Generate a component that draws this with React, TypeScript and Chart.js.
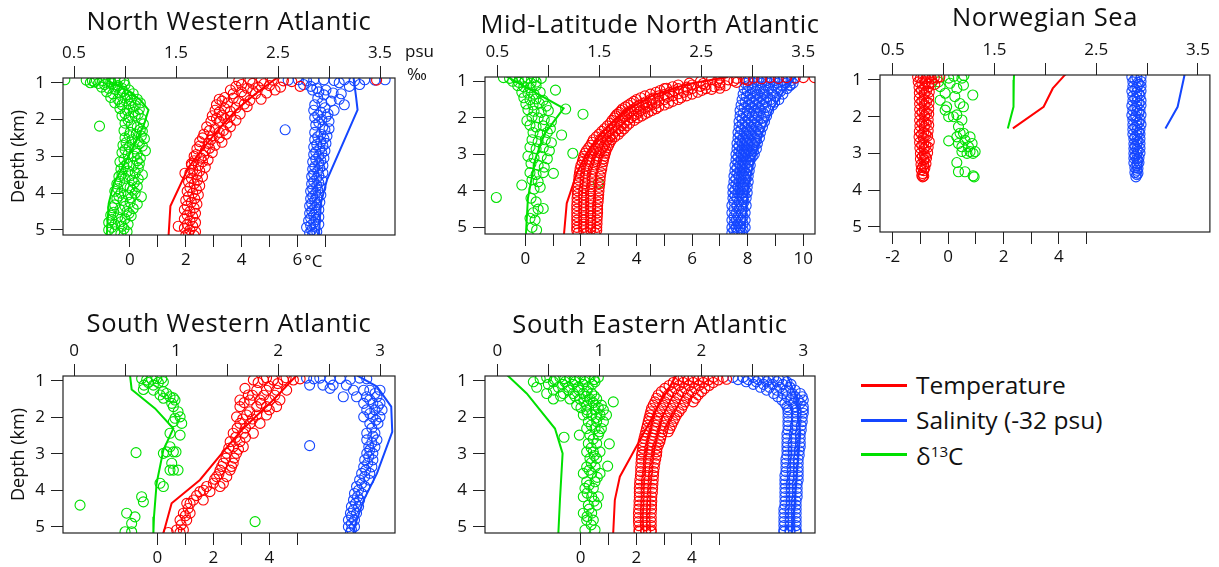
import React, { useEffect, useRef } from "react";
import { Chart, registerables } from "chart.js";

Chart.register(...registerables);

type Pt = [number, number];

const RED = "#ff0000";
const BLUE = "#1446ff";
const GREEN = "#00e000";
const INK = "#111111";
const FONT = "'Open Sans', 'Noto Sans', sans-serif";

// ---------- titles, ticks ----------
const panelTitles = [
  "North Western Atlantic",
  "Mid-Latitude North Atlantic",
  "Norwegian Sea",
  "South Western Atlantic",
  "South Eastern Atlantic",
];
const depthTicks = [1, 2, 3, 4, 5];
const topTicksNorth = [0.5, 1, 1.5, 2, 2.5, 3, 3.5];
const topLabelsNorth = [0.5, 1.5, 2.5, 3.5];
const topTicksSouth = [0, 0.5, 1, 1.5, 2, 2.5, 3];
const topLabelsSouth = [0, 1, 2, 3];
const botTicksNWA = [0, 1, 2, 3, 4, 5, 6, 7];
const botLabelsNWA = [0, 2, 4, 6];
const botTicksMLNA = [0, 1, 2, 3, 4, 5, 6, 7, 8, 9, 10];
const botLabelsMLNA = [0, 2, 4, 6, 8, 10];
const botTicksNS = [-2, -1, 0, 1, 2, 3, 4, 5];
const botLabelsNS = [-2, 0, 2, 4];
const botTicksSouth = [0, 1, 2, 3, 4, 5];
const botLabelsSouth = [0, 2, 4];
const legendLabels = ["Temperature", "Salinity (-32 psu)", "δ13C"];

// ---------- North Western Atlantic ----------
const nwaGreenObs: Pt[] = [
  [0.41, 0.92], [0.62, 0.93], [0.68, 0.95], [0.72, 0.93], [0.78, 0.94], [0.84, 0.93], [0.9, 0.95], [0.95, 0.93], [0.99, 0.97],
  [0.66, 1.0], [0.74, 1.02], [0.8, 1.05], [0.87, 1.03], [0.93, 1.08], [1.0, 1.06],
  [0.77, 1.12], [0.84, 1.15], [0.9, 1.18], [0.97, 1.15], [1.04, 1.2],
  [0.82, 1.25], [0.88, 1.3], [0.95, 1.28], [1.02, 1.33], [1.08, 1.3],
  [0.86, 1.4], [0.93, 1.45], [1.0, 1.42], [1.06, 1.48], [1.12, 1.45],
  [0.9, 1.55], [0.97, 1.6], [1.04, 1.58], [1.1, 1.62], [1.15, 1.55],
  [0.95, 1.7], [1.02, 1.75], [1.08, 1.8], [1.14, 1.72],
  [0.97, 1.9], [1.04, 1.95], [1.1, 1.9], [1.16, 1.98], [0.75, 2.18],
  [1.0, 2.1], [1.06, 2.15], [1.12, 2.2], [1.18, 2.12],
  [0.99, 2.3], [1.05, 2.35], [1.11, 2.4], [1.17, 2.32],
  [1.0, 2.5], [1.07, 2.55], [1.13, 2.6], [1.19, 2.52],
  [0.98, 2.7], [1.04, 2.75], [1.1, 2.8], [1.17, 2.72], [1.2, 2.85],
  [0.97, 2.9], [1.03, 2.95], [1.09, 3.0], [1.15, 3.05],
  [0.95, 3.15], [1.02, 3.2], [1.08, 3.25], [1.14, 3.2],
  [0.96, 3.35], [1.03, 3.4], [1.1, 3.45], [1.17, 3.5],
  [0.94, 3.55], [1.0, 3.6], [1.07, 3.65], [1.13, 3.62],
  [0.92, 3.75], [0.99, 3.8], [1.05, 3.85], [1.12, 3.82],
  [0.9, 3.95], [0.96, 4.0], [1.03, 4.05], [1.1, 4.0], [1.16, 4.1],
  [0.92, 4.15], [0.98, 4.2], [1.05, 4.25], [1.12, 4.3],
  [0.88, 4.4], [0.95, 4.45], [1.02, 4.5], [1.08, 4.42],
  [0.86, 4.6], [0.93, 4.65], [1.0, 4.7], [1.06, 4.62],
  [0.84, 4.8], [0.9, 4.85], [0.97, 4.9], [1.03, 4.85],
  [0.84, 5.0], [0.9, 5.05], [0.96, 5.1], [1.02, 5.05],
  [0.7, 0.98], [0.86, 0.98], [0.92, 1.12], [0.98, 1.24], [1.05, 1.38], [0.95, 1.52], [1.08, 1.66], [1.0, 1.84],
  [1.13, 1.85], [1.03, 2.02], [1.15, 2.27], [1.04, 2.44], [1.16, 2.45], [1.01, 2.63], [1.14, 2.66], [1.0, 2.82],
  [1.12, 2.92], [0.99, 3.08], [1.12, 3.12], [0.99, 3.28], [1.13, 3.32], [0.97, 3.48], [1.05, 3.53], [0.95, 3.68],
  [1.09, 3.72], [0.93, 3.88], [1.07, 3.92], [0.94, 4.08], [1.06, 4.13], [0.9, 4.32], [1.0, 4.36], [0.89, 4.52],
  [1.04, 4.55], [0.87, 4.72], [0.96, 4.78], [0.87, 4.93], [0.99, 4.97],
];
const nwaGreenModel: Pt[] = [
  [0.84, 0.85], [0.85, 0.97], [1.02, 1.2], [1.15, 1.47], [1.23, 1.74], [1.18, 2.19], [1.08, 2.74],
  [0.98, 3.28], [0.89, 3.73], [0.84, 4.28], [0.82, 5.2],
];
const nwaRedObs: Pt[] = [
  [3.9, 0.95], [4.3, 0.93], [4.7, 0.95], [5.1, 0.93], [5.5, 0.95], [5.8, 0.97], [6.1, 1.1], [8.84, 0.93],
  [3.8, 1.1], [4.2, 1.15], [4.6, 1.12], [5.0, 1.08], [5.4, 1.12],
  [3.2, 1.45], [3.4, 1.4],
  [3.7, 1.3], [4.1, 1.35], [4.5, 1.3], [4.9, 1.28], [5.2, 1.2],
  [3.1, 1.6], [3.5, 1.55], [3.9, 1.5], [4.3, 1.48], [4.7, 1.45],
  [3.05, 1.75], [3.4, 1.7], [3.8, 1.68], [4.2, 1.65],
  [2.95, 1.9], [3.3, 1.88], [3.6, 1.92], [3.95, 1.85],
  [2.9, 2.05], [3.2, 2.05], [3.5, 2.1], [3.8, 2.02],
  [2.75, 2.2], [3.05, 2.25], [3.35, 2.3], [3.6, 2.2],
  [2.65, 2.4], [2.95, 2.45], [3.2, 2.5], [3.45, 2.4],
  [2.5, 2.6], [2.8, 2.65], [3.05, 2.7], [3.3, 2.62],
  [2.4, 2.8], [2.7, 2.85], [2.95, 2.9],
  [2.21, 3.24], [1.97, 3.46],
  [2.3, 3.0], [2.55, 3.05], [2.8, 3.1],
  [2.2, 3.2], [2.45, 3.25], [2.7, 3.3],
  [2.15, 3.45], [2.4, 3.5], [2.6, 3.55],
  [2.1, 3.7], [2.3, 3.75], [2.5, 3.8],
  [2.05, 3.95], [2.25, 4.0], [2.45, 4.05],
  [2.0, 4.2], [2.2, 4.25], [2.4, 4.3],
  [1.95, 4.45], [2.15, 4.5], [2.35, 4.55],
  [1.95, 4.7], [2.15, 4.75], [2.35, 4.8],
  [1.73, 4.9], [1.95, 4.95], [2.15, 5.0], [2.35, 5.05], [2.0, 5.15], [2.3, 5.15],
  [4.0, 1.05], [4.4, 1.02], [4.8, 1.03], [3.6, 1.2], [4.0, 1.25], [4.4, 1.22], [3.3, 1.5], [3.7, 1.42],
  [4.1, 1.58], [3.2, 1.8], [3.6, 1.78], [3.1, 1.97], [3.4, 1.98], [2.85, 2.3], [3.2, 2.35], [2.6, 2.5],
  [2.9, 2.55], [2.5, 2.72], [2.85, 2.78], [2.38, 2.95], [2.65, 2.98], [2.3, 3.12], [2.6, 3.15], [2.25, 3.38],
  [2.5, 3.4], [2.2, 3.6], [2.42, 3.65], [2.15, 3.85], [2.38, 3.9], [2.1, 4.1], [2.32, 4.15], [2.05, 4.35],
  [2.3, 4.4], [2.05, 4.6], [2.25, 4.65], [2.05, 4.85], [2.25, 4.9], [2.1, 5.1],
];
const nwaRedModel: Pt[] = [
  [5.3, 0.85], [4.5, 1.3], [3.8, 1.75], [3.2, 2.25], [2.6, 2.8], [2.1, 3.3], [1.45, 4.35], [1.38, 5.2],
];
const nwaBlueObs: Pt[] = [
  [2.6, 0.93], [2.7, 0.92], [2.78, 0.95], [2.85, 0.93], [2.95, 0.92], [3.05, 0.94], [3.15, 0.92], [3.25, 0.95],
  [3.35, 0.92], [3.45, 0.93], [3.55, 0.92], [3.3, 1.05], [3.2, 1.1], [3.1, 1.0], [2.75, 1.05], [2.82, 1.1],
  [2.84, 1.2], [2.9, 1.25], [2.97, 1.2], [3.04, 1.28], [3.12, 1.3],
  [3.1, 1.45], [3.02, 1.5], [2.93, 1.55], [2.86, 1.6], [3.15, 1.6],
  [2.85, 1.75], [2.92, 1.8], [2.99, 1.85], [3.05, 1.75],
  [2.86, 1.95], [2.93, 2.0], [3.0, 2.05],
  [2.87, 2.15], [2.94, 2.2], [3.0, 2.25], [2.57, 2.28],
  [2.86, 2.35], [2.92, 2.4], [2.98, 2.45],
  [2.86, 2.55], [2.92, 2.6], [2.97, 2.65],
  [2.85, 2.75], [2.91, 2.8], [2.96, 2.85],
  [2.85, 2.95], [2.9, 3.0], [2.95, 3.05],
  [2.84, 3.15], [2.9, 3.2], [2.94, 3.25],
  [2.84, 3.35], [2.89, 3.4], [2.94, 3.45],
  [2.83, 3.55], [2.88, 3.6], [2.93, 3.65],
  [2.83, 3.75], [2.88, 3.8], [2.92, 3.85],
  [2.82, 3.95], [2.87, 4.0], [2.92, 4.05],
  [2.82, 4.15], [2.86, 4.2], [2.91, 4.25],
  [2.81, 4.35], [2.86, 4.4], [2.9, 4.45],
  [2.81, 4.55], [2.85, 4.6], [2.9, 4.65],
  [2.8, 4.75], [2.85, 4.8], [2.9, 4.85],
  [2.78, 4.93], [2.83, 5.0], [2.88, 5.05], [2.84, 5.12],
  [2.88, 1.15], [2.95, 1.33], [2.89, 1.42], [2.96, 1.68], [2.89, 1.88], [2.97, 1.93], [2.9, 2.08], [2.96, 2.28],
  [2.89, 2.47], [2.95, 2.52], [2.88, 2.68], [2.94, 2.72], [2.87, 2.88], [2.93, 2.92], [2.87, 3.08], [2.92, 3.12],
  [2.86, 3.28], [2.91, 3.32], [2.85, 3.48], [2.9, 3.52], [2.85, 3.68], [2.9, 3.72], [2.84, 3.88], [2.89, 3.92],
  [2.84, 4.08], [2.88, 4.12], [2.83, 4.28], [2.88, 4.32], [2.83, 4.48], [2.87, 4.52], [2.82, 4.68], [2.87, 4.72],
  [2.82, 4.88], [2.86, 4.92], [2.81, 5.08], [2.86, 5.1],
];
const nwaBlueModel: Pt[] = [
  [3.24, 0.85], [3.265, 1.38], [3.28, 1.74], [2.98, 3.64], [2.92, 4.28], [2.9, 5.2],
];

// ---------- Mid-Latitude North Atlantic ----------
const mlnaGreenObs: Pt[] = [
  [0.56, 0.9], [0.62, 0.92], [0.68, 0.9], [0.74, 0.93], [0.8, 0.91], [0.86, 0.9], [0.93, 0.92],
  [0.65, 1.0], [0.71, 1.03], [0.77, 1.0], [0.83, 1.05], [0.88, 1.02],
  [0.7, 1.12], [0.76, 1.15], [0.82, 1.18], [0.88, 1.12], [1.07, 1.24],
  [0.74, 1.3], [0.8, 1.32], [0.86, 1.35], [0.92, 1.3],
  [0.76, 1.45], [0.82, 1.5], [0.88, 1.48], [0.95, 1.52],
  [0.78, 1.62], [0.85, 1.65], [0.91, 1.6], [0.98, 1.68], [1.17, 1.76],
  [0.8, 1.78], [0.86, 1.82], [0.93, 1.85], [1.0, 1.8], [1.34, 1.9],
  [0.79, 2.08], [0.84, 1.98], [0.9, 2.0], [0.96, 2.05], [1.03, 2.1],
  [0.82, 2.2], [0.88, 2.25], [0.95, 2.22], [1.02, 2.3],
  [0.85, 2.4], [0.92, 2.45], [0.99, 2.4], [1.13, 2.47],
  [0.84, 2.6], [0.9, 2.65], [0.97, 2.6], [1.03, 2.68],
  [0.82, 2.8], [0.88, 2.85], [0.95, 2.82], [1.01, 2.9], [1.24, 2.97],
  [0.8, 3.05], [0.86, 3.1], [0.93, 3.05], [0.99, 3.12],
  [0.83, 3.25], [0.9, 3.3], [0.96, 3.35], [1.05, 3.52],
  [0.82, 3.5], [0.88, 3.55], [0.95, 3.5],
  [0.74, 3.84], [0.84, 3.7], [0.9, 3.75], [0.86, 3.95], [0.92, 3.9],
  [0.49, 4.18], [0.83, 4.2], [0.88, 4.3], [0.95, 4.48], [0.85, 4.6], [0.9, 4.5],
  [0.82, 4.75], [0.87, 4.8], [0.84, 5.0], [0.885, 5.07], [1.49, 3.79],
];
const mlnaGreenModel: Pt[] = [
  [0.58, 0.85], [1.15, 1.74], [0.96, 2.45], [0.87, 3.15], [0.8, 4.2], [0.78, 5.2],
];
const mlnaRedObs: Pt[] = [
  [7.0, 0.92], [7.6, 0.92], [8.2, 0.91], [8.8, 0.9], [9.4, 0.9], [10.0, 0.9], [10.4, 0.9],
  [6.3, 1.0], [6.9, 1.0], [7.5, 0.99], [8.0, 0.97],
  [5.5, 1.1], [6.0, 1.1], [6.5, 1.1], [7.0, 1.1], [5.08, 1.19],
  [5.0, 1.2], [5.5, 1.2], [6.0, 1.2], [6.5, 1.2], [7.0, 1.19],
  [4.7, 1.3], [5.2, 1.3], [5.7, 1.3], [6.2, 1.3],
  [4.3, 1.4], [4.8, 1.4], [5.3, 1.4], [5.8, 1.4],
  [4.0, 1.5], [4.5, 1.5], [5.0, 1.5], [5.5, 1.5],
  [3.8, 1.6], [4.25, 1.6], [4.7, 1.6], [5.15, 1.6],
  [3.6, 1.7], [4.0, 1.7], [4.4, 1.7], [4.8, 1.7],
  [3.45, 1.8], [3.8, 1.8], [4.15, 1.8], [4.55, 1.8],
  [3.3, 1.9], [3.65, 1.9], [4.0, 1.9], [4.3, 1.9],
  [3.2, 2.0], [3.5, 2.0], [3.8, 2.0], [4.05, 2.0],
  [3.05, 2.15], [3.3, 2.15], [3.55, 2.15], [3.75, 2.15],
  [2.85, 2.3], [3.1, 2.3], [3.35, 2.3], [3.55, 2.3],
  [2.65, 2.45], [2.9, 2.45], [3.15, 2.45], [3.35, 2.45],
  [2.45, 2.6], [2.7, 2.6], [2.95, 2.6], [3.1, 2.6],
  [2.35, 2.75], [2.6, 2.75], [2.85, 2.75], [3.0, 2.75],
  [2.2, 2.9], [2.45, 2.9], [2.7, 2.9], [2.9, 2.9],
  [2.1, 3.05], [2.35, 3.05], [2.6, 3.05], [2.85, 3.05],
  [2.05, 3.2], [2.3, 3.2], [2.55, 3.2], [2.8, 3.2],
  [1.97, 3.4], [2.2, 3.4], [2.45, 3.4], [2.75, 3.4],
  [1.93, 3.6], [2.15, 3.6], [2.4, 3.6], [2.7, 3.6],
  [1.9, 3.8], [2.15, 3.8], [2.4, 3.8], [2.68, 3.8],
  [1.88, 4.0], [2.1, 4.0], [2.35, 4.0], [2.65, 4.0],
  [1.86, 4.2], [2.1, 4.2], [2.35, 4.2], [2.63, 4.2],
  [1.85, 4.4], [2.1, 4.4], [2.35, 4.4], [2.6, 4.4],
  [1.85, 4.6], [2.1, 4.6], [2.35, 4.6], [2.6, 4.6],
  [1.85, 4.8], [2.1, 4.8], [2.35, 4.8], [2.58, 4.8],
  [1.85, 5.0], [2.1, 5.0], [2.35, 5.0], [2.57, 5.0],
  [1.9, 5.15], [2.2, 5.15], [2.5, 5.15],
  [6.7, 0.95], [7.3, 0.96], [7.9, 0.94], [8.5, 0.93], [9.1, 0.92], [9.7, 0.91],
  [5.9, 1.05], [6.4, 1.06], [7.0, 1.04], [7.6, 1.03],
  [5.3, 1.15], [5.8, 1.16], [6.3, 1.14], [6.8, 1.15], [7.2, 1.12],
  [4.85, 1.25], [5.35, 1.26], [5.85, 1.24], [6.35, 1.25], [6.7, 1.22],
  [4.5, 1.35], [5.0, 1.36], [5.5, 1.34], [6.0, 1.35],
  [4.15, 1.45], [4.6, 1.46], [5.1, 1.44], [5.6, 1.45],
  [3.9, 1.55], [4.35, 1.56], [4.8, 1.54], [5.3, 1.55],
  [3.7, 1.65], [4.1, 1.66], [4.55, 1.64], [5.0, 1.65],
  [3.5, 1.75], [3.9, 1.76], [4.3, 1.74], [4.7, 1.75],
  [3.38, 1.85], [3.72, 1.86], [4.08, 1.84], [4.42, 1.85],
  [3.25, 1.95], [3.58, 1.96], [3.9, 1.94], [4.18, 1.95],
  [3.12, 2.07], [3.4, 2.08], [3.68, 2.06], [3.92, 2.07],
  [2.95, 2.22], [3.2, 2.23], [3.45, 2.21], [3.65, 2.22],
  [2.75, 2.37], [3.0, 2.38], [3.25, 2.36], [3.45, 2.37],
  [2.55, 2.52], [2.8, 2.53], [3.05, 2.51], [3.22, 2.52],
  [2.4, 2.67], [2.65, 2.68], [2.9, 2.66], [3.05, 2.67],
  [2.28, 2.82], [2.52, 2.83], [2.78, 2.81], [2.95, 2.82],
  [2.15, 2.97], [2.4, 2.98], [2.65, 2.96], [2.88, 2.97],
  [2.08, 3.12], [2.32, 3.13], [2.58, 3.11], [2.82, 3.12],
  [2.0, 3.3], [2.25, 3.31], [2.5, 3.29], [2.77, 3.3],
  [1.95, 3.5], [2.18, 3.51], [2.42, 3.49], [2.72, 3.5],
  [1.92, 3.7], [2.15, 3.71], [2.4, 3.69], [2.69, 3.7],
  [1.89, 3.9], [2.12, 3.91], [2.38, 3.89], [2.66, 3.9],
  [1.87, 4.1], [2.1, 4.11], [2.35, 4.09], [2.64, 4.1],
  [1.86, 4.3], [2.1, 4.31], [2.35, 4.29], [2.62, 4.3],
  [1.85, 4.5], [2.1, 4.51], [2.35, 4.49], [2.6, 4.5],
  [1.85, 4.7], [2.1, 4.71], [2.35, 4.69], [2.59, 4.7],
  [1.85, 4.9], [2.1, 4.91], [2.35, 4.89], [2.58, 4.9],
  [1.85, 5.08], [2.1, 5.09], [2.35, 5.07], [2.57, 5.08],
];
const mlnaRedModel: Pt[] = [
  [7.3, 0.88], [5.8, 1.08], [4.6, 1.38], [3.6, 1.8], [3.1, 2.15], [2.75, 2.42], [2.2, 2.97],
  [1.85, 3.52], [1.49, 4.34], [1.39, 5.2],
];
const mlnaBlueObs: Pt[] = [
  [2.93, 0.92], [3.02, 0.92], [3.1, 0.92], [3.18, 0.92], [3.26, 0.92], [3.34, 0.92], [3.42, 0.92],
  [2.93, 1.05], [3.01, 1.05], [3.09, 1.05], [3.17, 1.05], [3.25, 1.05], [3.33, 1.05], [3.4, 1.05],
  [2.92, 1.2], [3.0, 1.2], [3.08, 1.2], [3.16, 1.2], [3.24, 1.2], [3.34, 1.2],
  [2.91, 1.35], [2.98, 1.35], [3.05, 1.35], [3.12, 1.35], [3.2, 1.35], [3.3, 1.35],
  [2.9, 1.5], [2.97, 1.5], [3.04, 1.5], [3.11, 1.5], [3.18, 1.5], [3.26, 1.5],
  [2.89, 1.65], [2.96, 1.65], [3.03, 1.65], [3.1, 1.65], [3.2, 1.65],
  [2.88, 1.8], [2.95, 1.8], [3.02, 1.8], [3.08, 1.8], [3.16, 1.8],
  [2.88, 1.95], [2.94, 1.95], [3.0, 1.95], [3.06, 1.95], [3.14, 1.95],
  [2.87, 2.1], [2.93, 2.1], [2.99, 2.1], [3.05, 2.1], [3.12, 2.1],
  [2.87, 2.25], [2.93, 2.25], [2.99, 2.25], [3.04, 2.25], [3.1, 2.25],
  [2.86, 2.4], [2.92, 2.4], [2.97, 2.4], [3.03, 2.4], [3.08, 2.4],
  [2.86, 2.55], [2.91, 2.55], [2.96, 2.55], [3.02, 2.55], [3.07, 2.55],
  [2.85, 2.7], [2.9, 2.7], [2.95, 2.7], [3.0, 2.7], [3.05, 2.7],
  [2.85, 2.85], [2.9, 2.85], [2.95, 2.85], [3.0, 2.85], [3.04, 2.85],
  [2.84, 3.0], [2.89, 3.0], [2.94, 3.0], [2.99, 3.0], [3.02, 3.0],
  [2.84, 3.15], [2.89, 3.15], [2.94, 3.15], [2.98, 3.15],
  [2.83, 3.3], [2.88, 3.3], [2.93, 3.3], [2.98, 3.3],
  [2.83, 3.45], [2.88, 3.45], [2.92, 3.45], [2.97, 3.45],
  [2.82, 3.6], [2.87, 3.6], [2.92, 3.6], [2.96, 3.6],
  [2.82, 3.75], [2.87, 3.75], [2.91, 3.75], [2.96, 3.75],
  [2.81, 3.9], [2.86, 3.9], [2.91, 3.9], [2.95, 3.9],
  [2.81, 4.05], [2.86, 4.05], [2.9, 4.05], [2.95, 4.05],
  [2.81, 4.2], [2.85, 4.2], [2.9, 4.2], [2.94, 4.2],
  [2.8, 4.4], [2.85, 4.4], [2.89, 4.4], [2.94, 4.4],
  [2.8, 4.6], [2.84, 4.6], [2.89, 4.6], [2.93, 4.6],
  [2.8, 4.8], [2.84, 4.8], [2.89, 4.8], [2.93, 4.8],
  [2.8, 5.0], [2.84, 5.0], [2.88, 5.0], [2.93, 5.0],
  [2.8, 5.15], [2.85, 5.15], [2.9, 5.15], [3.37, 1.1],
  [2.97, 0.98], [3.06, 0.98], [3.14, 0.98], [3.22, 0.98], [3.3, 0.98], [3.38, 0.98],
  [2.96, 1.12], [3.05, 1.12], [3.13, 1.12], [3.21, 1.12], [3.29, 1.12], [3.37, 1.12],
  [2.95, 1.27], [3.03, 1.27], [3.11, 1.27], [3.19, 1.27], [3.28, 1.27],
  [2.94, 1.42], [3.01, 1.42], [3.08, 1.42], [3.15, 1.42], [3.23, 1.42],
  [2.93, 1.57], [3.0, 1.57], [3.07, 1.57], [3.14, 1.57], [3.22, 1.57],
  [2.92, 1.72], [2.99, 1.72], [3.06, 1.72], [3.13, 1.72],
  [2.91, 1.87], [2.97, 1.87], [3.04, 1.87], [3.11, 1.87],
  [2.9, 2.02], [2.96, 2.02], [3.02, 2.02], [3.09, 2.02],
  [2.9, 2.17], [2.96, 2.17], [3.02, 2.17], [3.08, 2.17],
  [2.89, 2.32], [2.95, 2.32], [3.0, 2.32], [3.06, 2.32],
  [2.88, 2.47], [2.94, 2.47], [2.99, 2.47], [3.05, 2.47],
  [2.88, 2.62], [2.93, 2.62], [2.98, 2.62], [3.04, 2.62],
  [2.87, 2.77], [2.92, 2.77], [2.97, 2.77], [3.02, 2.77],
  [2.87, 2.92], [2.92, 2.92], [2.97, 2.92], [3.01, 2.92],
  [2.86, 3.07], [2.91, 3.07], [2.96, 3.07], [3.0, 3.07],
  [2.86, 3.22], [2.91, 3.22], [2.96, 3.22],
  [2.85, 3.37], [2.9, 3.37], [2.95, 3.37],
  [2.85, 3.52], [2.9, 3.52], [2.94, 3.52],
  [2.84, 3.67], [2.89, 3.67], [2.94, 3.67],
  [2.84, 3.82], [2.89, 3.82], [2.93, 3.82],
  [2.83, 3.97], [2.88, 3.97], [2.93, 3.97],
  [2.83, 4.12], [2.88, 4.12], [2.92, 4.12],
  [2.82, 4.3], [2.87, 4.3], [2.92, 4.3],
  [2.82, 4.5], [2.87, 4.5], [2.91, 4.5],
  [2.82, 4.7], [2.86, 4.7], [2.91, 4.7],
  [2.82, 4.9], [2.86, 4.9], [2.91, 4.9],
  [2.82, 5.08], [2.86, 5.08], [2.91, 5.08],
];
const mlnaBlueModel: Pt[] = [
  [3.43, 0.85], [3.3, 1.3], [3.2, 1.75], [3.1, 2.4], [3.02, 3.1], [2.96, 3.9], [2.92, 5.2],
];

// ---------- Norwegian Sea ----------
const nsGreenObs: Pt[] = [
  [0.966, 1.18], [1.064, 1.09], [1.015, 1.36], [1.13, 1.23], [1.195, 1.14], [1.18, 0.95], [1.05, 0.95],
  [0.95, 1.05], [1.11, 1.45], [0.966, 1.55], [1.16, 1.64], [1.03, 1.73], [1.195, 1.73], [1.015, 1.82],
  [1.13, 1.95], [1.097, 2.0], [1.18, 2.09], [1.05, 2.0], [1.287, 1.41], [1.146, 2.27], [1.162, 2.45],
  [1.13, 2.55], [1.195, 2.45], [1.21, 2.64], [1.146, 2.73], [1.05, 2.66], [1.26, 2.55], [1.244, 2.82],
  [1.18, 2.82], [1.23, 3.0], [1.28, 2.73], [1.18, 2.95], [1.29, 3.0], [1.26, 2.95], [1.31, 2.95],
  [1.13, 3.25], [1.146, 3.5], [1.21, 3.5], [1.29, 3.61], [1.3, 3.64], [1.1, 0.9], [1.2, 0.88],
];
const nsGreenModel: Pt[] = [
  [1.693, 0.8], [1.69, 1.0], [1.687, 1.73], [1.631, 2.32],
];
const nsRedObs: Pt[] = [
  [-1.1, 0.92], [-1.0, 0.95], [-0.9, 0.93], [-0.8, 0.96], [-0.7, 0.93], [-0.6, 0.97], [-0.5, 0.93], [-0.4, 0.95], [-0.3, 0.92],
  [-1.08, 1.05], [-0.95, 1.08], [-0.82, 1.05], [-0.7, 1.1], [-0.58, 1.06], [-0.48, 1.12],
  [-1.05, 1.2], [-0.88, 1.22], [-0.7, 1.18],
  [-1.04, 1.35], [-0.86, 1.37], [-0.68, 1.33],
  [-1.04, 1.5], [-0.87, 1.52], [-0.7, 1.48],
  [-1.03, 1.65], [-0.86, 1.67], [-0.69, 1.63],
  [-1.03, 1.8], [-0.86, 1.82], [-0.7, 1.78],
  [-1.02, 1.95], [-0.85, 1.97], [-0.7, 1.93],
  [-1.03, 2.1], [-0.87, 2.12], [-0.72, 2.08],
  [-1.02, 2.25], [-0.86, 2.27], [-0.7, 2.23],
  [-1.04, 2.4], [-0.88, 2.42], [-0.72, 2.38],
  [-1.05, 2.55], [-0.9, 2.57], [-0.74, 2.53],
  [-1.03, 2.7], [-0.88, 2.72], [-0.68, 2.68],
  [-1.02, 2.85], [-0.87, 2.87], [-0.72, 2.83],
  [-1.0, 3.0], [-0.86, 3.02], [-0.74, 2.98],
  [-1.0, 3.15], [-0.88, 3.17], [-0.78, 3.13],
  [-0.98, 3.3], [-0.88, 3.32], [-0.8, 3.28],
  [-0.97, 3.45], [-0.88, 3.47], [-0.95, 3.6], [-0.88, 3.62], [-0.92, 3.64],
  [-0.96, 1.28], [-0.78, 1.3], [-0.95, 1.58], [-0.78, 1.6], [-0.94, 1.88], [-0.78, 1.9], [-0.95, 2.18],
  [-0.79, 2.2], [-0.96, 2.48], [-0.8, 2.5], [-0.95, 2.78], [-0.8, 2.8], [-0.93, 3.08], [-0.82, 3.1],
  [-0.93, 3.38], [-0.84, 3.4], [-0.92, 3.55],
];
const nsRedModel: Pt[] = [
  [4.3, 0.8], [4.17, 0.9], [3.78, 1.23], [3.45, 1.73], [2.34, 2.32],
];
const nsBlueObs: Pt[] = [
  [2.85, 0.92], [2.9, 0.93], [2.94, 0.92], [2.86, 1.05], [2.91, 1.07], [2.94, 1.04],
  [2.86, 1.18], [2.9, 1.2], [2.94, 1.17], [2.85, 1.31], [2.9, 1.33], [2.94, 1.3],
  [2.86, 1.44], [2.9, 1.46], [2.93, 1.43], [2.86, 1.57], [2.9, 1.59], [2.94, 1.56],
  [2.85, 1.7], [2.9, 1.72], [2.94, 1.69], [2.86, 1.83], [2.9, 1.85], [2.93, 1.82],
  [2.85, 1.96], [2.89, 1.98], [2.94, 1.95], [2.86, 2.09], [2.9, 2.11], [2.93, 2.08],
  [2.86, 2.22], [2.9, 2.24], [2.94, 2.21], [2.86, 2.35], [2.9, 2.37], [2.93, 2.34],
  [2.86, 2.48], [2.9, 2.5], [2.93, 2.47], [2.87, 2.61], [2.9, 2.63], [2.93, 2.6],
  [2.87, 2.74], [2.9, 2.76], [2.93, 2.73], [2.87, 2.87], [2.9, 2.89], [2.93, 2.86],
  [2.87, 3.0], [2.9, 3.02], [2.93, 2.99], [2.87, 3.13], [2.9, 3.15], [2.92, 3.12],
  [2.87, 3.26], [2.9, 3.28], [2.92, 3.25], [2.88, 3.39], [2.91, 3.41], [2.88, 3.52],
  [2.91, 3.54], [2.89, 3.64],
  [2.88, 0.98], [2.92, 1.12], [2.88, 1.25], [2.92, 1.38], [2.88, 1.51], [2.92, 1.64], [2.88, 1.77],
  [2.92, 1.9], [2.88, 2.03], [2.92, 2.16], [2.88, 2.29], [2.92, 2.42], [2.88, 2.55], [2.91, 2.68],
  [2.88, 2.81], [2.91, 2.94], [2.88, 3.07], [2.91, 3.2], [2.9, 3.33], [2.9, 3.46], [2.9, 3.58],
];
const nsBlueModel: Pt[] = [
  [3.37, 0.8], [3.365, 0.9], [3.3, 1.73], [3.18, 2.32],
];

// ---------- South Western Atlantic ----------
const swaGreenObs: Pt[] = [
  [0.663, 0.94], [0.712, 0.98], [0.761, 0.96], [0.81, 0.94], [0.86, 0.94], [0.876, 1.03], [0.686, 1.12],
  [0.729, 1.05], [0.778, 1.12], [0.827, 1.05], [0.68, 1.24], [0.778, 1.26], [0.876, 1.3], [0.843, 1.39],
  [0.908, 1.35], [0.876, 1.48], [0.941, 1.44], [0.974, 1.47], [0.958, 1.62], [0.99, 1.53], [0.974, 1.71],
  [1.02, 1.85], [1.04, 1.99], [0.99, 2.03], [0.974, 2.12], [1.056, 2.17], [1.04, 2.49], [0.941, 2.44],
  [0.908, 2.95], [0.876, 2.99], [0.941, 2.81], [0.974, 2.95], [1.0, 2.95], [0.958, 3.26], [0.974, 3.45],
  [0.941, 3.45], [1.02, 3.45], [0.843, 3.81], [0.876, 3.9], [0.663, 4.18], [0.68, 4.32], [0.516, 4.63],
  [0.598, 4.73], [0.565, 4.91], [0.5, 5.14], [0.565, 5.14], [0.059, 4.41], [0.608, 2.97], [1.775, 4.86],
];
const swaGreenModel: Pt[] = [
  [0.549, 0.85], [0.565, 1.24], [0.794, 1.76], [0.974, 2.31], [0.876, 2.9], [0.81, 3.81], [0.784, 4.73], [0.778, 5.2],
];
const swaRedObs: Pt[] = [
  [3.43, 0.98], [3.79, 0.98], [4.14, 0.98], [4.5, 0.98], [4.86, 0.98], [5.1, 0.95], [3.9, 0.92], [4.6, 0.92],
  [3.13, 1.21], [3.25, 1.39], [2.95, 1.53],
  [3.55, 1.26], [3.9, 1.26], [4.26, 1.26], [4.62, 1.26],
  [3.31, 1.53], [3.67, 1.53], [4.02, 1.53], [4.38, 1.53],
  [2.95, 1.71], [3.55, 1.71], [3.9, 1.71], [4.26, 1.71],
  [3.19, 1.94], [3.55, 1.94], [3.9, 1.94], [2.83, 1.99],
  [2.95, 2.17], [3.31, 2.17], [3.67, 2.17],
  [2.71, 2.44], [3.07, 2.44], [3.43, 2.44],
  [2.6, 2.67], [2.95, 2.67], [2.71, 2.81], [3.07, 2.81],
  [2.48, 2.99], [2.83, 2.99], [2.36, 3.26], [2.71, 3.26],
  [2.24, 3.45], [2.6, 3.45], [2.12, 3.63], [2.48, 3.63],
  [2.0, 3.81], [2.36, 3.81], [1.76, 3.9], [2.24, 3.9],
  [1.52, 4.04], [1.88, 4.04], [1.29, 4.27], [1.64, 4.27],
  [1.05, 4.36], [1.17, 4.36], [0.93, 4.63], [1.17, 4.63],
  [0.81, 4.82], [1.05, 4.82], [0.69, 5.09], [0.93, 5.09], [0.39, 5.16], [0.81, 5.16],
  [3.6, 1.05], [4.3, 1.08], [4.0, 1.15], [3.4, 1.4], [3.8, 1.4], [4.2, 1.4], [3.1, 1.6], [3.7, 1.62],
  [4.0, 1.8], [3.3, 1.85], [3.05, 2.05], [3.4, 2.05], [3.15, 2.3], [2.85, 2.3], [2.8, 2.55], [3.15, 2.55],
  [2.55, 2.85], [2.9, 2.88], [2.45, 3.12], [2.75, 3.12], [2.3, 3.35], [2.65, 3.35], [2.2, 3.55], [2.05, 3.7],
  [1.65, 4.0], [1.4, 4.15], [1.1, 4.5], [1.0, 4.7], [0.85, 4.95],
];
const swaRedModel: Pt[] = [
  [4.98, 0.85], [4.14, 1.53], [3.07, 2.31], [2.6, 2.72], [1.52, 3.72], [0.51, 4.36], [0.21, 5.2],
];
const swaBlueObs: Pt[] = [
  [2.28, 0.93], [2.35, 0.95], [2.41, 0.93], [2.51, 0.96], [2.61, 0.94], [2.71, 0.96], [2.8, 0.93], [2.87, 0.95],
  [2.31, 1.12], [2.44, 1.12], [2.54, 1.12], [2.67, 1.12], [2.51, 1.21],
  [2.74, 1.26], [2.84, 1.26], [2.9, 1.26], [3.0, 1.26],
  [2.77, 1.44], [2.87, 1.44], [2.97, 1.44], [2.64, 1.44],
  [2.84, 1.62], [2.93, 1.62], [3.0, 1.62],
  [2.87, 1.8], [2.95, 1.8], [3.02, 1.8],
  [2.84, 1.99], [2.93, 1.99], [3.0, 1.99],
  [2.9, 2.17], [2.98, 2.17], [2.87, 2.44], [2.95, 2.44],
  [2.87, 2.62], [2.97, 2.62], [2.89, 2.81], [2.95, 2.81],
  [2.87, 2.99], [2.93, 2.99], [2.85, 3.17], [2.93, 3.17],
  [2.84, 3.36], [2.92, 3.36], [2.82, 3.54], [2.9, 3.54],
  [2.8, 3.72], [2.89, 3.72], [2.77, 3.9], [2.85, 3.9],
  [2.75, 4.09], [2.82, 4.09], [2.74, 4.27], [2.8, 4.27],
  [2.72, 4.45], [2.79, 4.45], [2.71, 4.63], [2.77, 4.63],
  [2.69, 4.82], [2.75, 4.82], [2.69, 5.0], [2.75, 5.0], [2.71, 5.16], [2.31, 2.78],
  [2.95, 1.35], [2.9, 1.52], [2.98, 1.7], [2.9, 1.9], [2.96, 2.08], [2.92, 2.3], [2.93, 2.52], [2.92, 2.7],
  [2.9, 2.9], [2.89, 3.08], [2.88, 3.26], [2.86, 3.45], [2.85, 3.63], [2.82, 3.82], [2.79, 4.0], [2.78, 4.18],
  [2.76, 4.36], [2.74, 4.54], [2.72, 4.72], [2.72, 4.92], [2.72, 5.08],
];
const swaBlueModel: Pt[] = [
  [2.77, 0.85], [2.97, 1.16], [3.11, 1.71], [3.12, 2.4], [2.97, 3.54], [2.84, 4.27], [2.75, 5.0], [2.74, 5.2],
];

// ---------- South Eastern Atlantic ----------
const seaGreenObs: Pt[] = [
  [0.484, 0.91], [0.614, 0.91], [0.712, 0.91], [0.81, 0.91], [0.908, 0.91], [0.99, 0.91],
  [0.353, 1.03], [0.549, 1.03], [0.663, 1.03], [0.761, 1.03], [0.859, 1.03], [0.958, 1.03],
  [0.386, 1.18], [0.598, 1.18], [0.696, 1.18], [0.794, 1.18], [0.892, 1.18],
  [0.484, 1.35], [0.647, 1.35], [0.745, 1.35], [0.843, 1.35], [0.925, 1.35],
  [0.549, 1.5], [0.712, 1.5], [0.81, 1.5], [0.908, 1.5], [0.974, 1.5], [1.137, 1.58],
  [0.778, 1.67], [0.876, 1.67], [0.958, 1.67], [1.02, 1.67],
  [0.876, 1.8], [0.958, 1.8], [1.04, 1.8],
  [0.843, 1.94], [0.925, 1.94], [1.007, 1.94], [1.07, 1.94],
  [0.892, 2.12], [0.974, 2.12], [1.04, 2.12],
  [0.876, 2.31], [0.958, 2.31], [1.02, 2.31],
  [0.804, 2.49], [0.908, 2.49], [0.99, 2.49], [0.654, 2.55], [1.098, 2.73],
  [0.892, 2.72], [0.974, 2.72], [0.876, 2.95], [0.941, 2.95], [1.007, 2.95],
  [0.908, 3.13], [0.974, 3.13], [1.082, 3.34], [0.876, 3.36], [0.958, 3.36],
  [0.843, 3.54], [0.925, 3.54], [1.007, 3.54], [0.876, 3.77], [0.958, 3.77],
  [0.859, 3.95], [0.941, 3.95], [0.843, 4.18], [0.925, 4.18], [0.99, 4.18],
  [0.892, 4.41], [0.974, 4.41], [0.843, 4.63], [0.925, 4.63],
  [0.876, 4.82], [0.941, 4.82], [0.859, 5.09], [0.958, 5.09],
  [0.42, 0.95], [0.56, 0.97], [0.66, 0.95], [0.76, 0.97], [0.86, 0.96], [0.95, 0.97], [0.5, 1.1], [0.64, 1.1],
  [0.74, 1.1], [0.84, 1.1], [0.93, 1.1], [0.55, 1.26], [0.7, 1.26], [0.8, 1.26], [0.88, 1.28], [0.62, 1.42],
  [0.76, 1.42], [0.87, 1.43], [0.95, 1.42], [0.85, 1.58], [0.94, 1.6], [0.82, 1.74], [0.99, 1.74], [0.88, 1.88],
  [0.97, 2.02], [0.92, 2.22], [1.0, 2.4], [0.94, 2.6], [0.92, 2.84], [0.95, 3.05], [0.92, 3.25], [0.9, 3.45],
  [0.98, 3.65], [0.9, 3.86], [0.88, 4.08], [0.95, 4.3], [0.9, 4.52], [0.88, 4.72], [0.92, 4.95],
];
const seaGreenModel: Pt[] = [
  [0.098, 0.85], [0.288, 1.35], [0.565, 2.31], [0.64, 2.99], [0.614, 4.27], [0.598, 5.2],
];
const seaRedObs: Pt[] = [
  [3.69, 0.91], [4.05, 0.91], [4.41, 0.91], [4.77, 0.91], [5.13, 0.91],
  [3.33, 1.05], [3.69, 1.05], [4.05, 1.05], [4.41, 1.05], [4.77, 1.05],
  [3.03, 1.21], [3.39, 1.21], [3.75, 1.21], [4.11, 1.21], [4.47, 1.21],
  [2.79, 1.39], [3.15, 1.39], [3.51, 1.39], [3.87, 1.39], [4.23, 1.39],
  [2.67, 1.58], [3.03, 1.58], [3.39, 1.58], [3.75, 1.58], [4.05, 1.58],
  [2.55, 1.76], [2.91, 1.76], [3.27, 1.76], [3.63, 1.76],
  [2.49, 1.94], [2.79, 1.94], [3.15, 1.94], [3.45, 1.94],
  [2.43, 2.12], [2.73, 2.12], [3.03, 2.12], [3.33, 2.12],
  [2.37, 2.31], [2.67, 2.31], [2.97, 2.31], [3.21, 2.31],
  [2.31, 2.49], [2.61, 2.49], [2.91, 2.49],
  [2.25, 2.67], [2.55, 2.67], [2.85, 2.67],
  [2.23, 2.85], [2.49, 2.85], [2.75, 2.85],
  [2.19, 3.04], [2.46, 3.04], [2.73, 3.04],
  [2.17, 3.26], [2.43, 3.26], [2.67, 3.26],
  [2.16, 3.49], [2.41, 3.49], [2.63, 3.49],
  [2.13, 3.72], [2.37, 3.72], [2.61, 3.72],
  [2.11, 3.95], [2.35, 3.95], [2.59, 3.95],
  [2.11, 4.18], [2.35, 4.18], [2.56, 4.18],
  [2.1, 4.41], [2.34, 4.41], [2.55, 4.41],
  [2.08, 4.63], [2.32, 4.63], [2.54, 4.63],
  [2.08, 4.86], [2.32, 4.86], [2.54, 4.86],
  [2.1, 5.09], [2.34, 5.09], [2.54, 5.09],
  [3.5, 0.98], [3.87, 0.98], [4.23, 0.98], [4.6, 0.98], [4.95, 0.98], [5.25, 0.96],
  [3.18, 1.13], [3.54, 1.13], [3.9, 1.13], [4.26, 1.13], [4.62, 1.13],
  [2.9, 1.3], [3.27, 1.3], [3.63, 1.3], [3.99, 1.3], [4.35, 1.3],
  [2.73, 1.48], [3.09, 1.48], [3.45, 1.48], [3.81, 1.48], [4.14, 1.48],
  [2.61, 1.67], [2.97, 1.67], [3.33, 1.67], [3.69, 1.67],
  [2.52, 1.85], [2.85, 1.85], [3.21, 1.85], [3.54, 1.85],
  [2.46, 2.03], [2.76, 2.03], [3.09, 2.03], [3.39, 2.03],
  [2.4, 2.22], [2.7, 2.22], [3.0, 2.22], [3.27, 2.22],
  [2.34, 2.4], [2.64, 2.4], [2.94, 2.4], [3.15, 2.4],
  [2.28, 2.58], [2.58, 2.58], [2.88, 2.58],
  [2.24, 2.76], [2.52, 2.76], [2.8, 2.76],
  [2.21, 2.95], [2.48, 2.95], [2.74, 2.95],
  [2.18, 3.15], [2.44, 3.15], [2.7, 3.15],
  [2.16, 3.38], [2.42, 3.38], [2.65, 3.38],
  [2.15, 3.6], [2.39, 3.6], [2.62, 3.6],
  [2.12, 3.83], [2.36, 3.83], [2.6, 3.83],
  [2.11, 4.06], [2.35, 4.06], [2.58, 4.06],
  [2.1, 4.3], [2.34, 4.3], [2.56, 4.3],
  [2.09, 4.52], [2.33, 4.52], [2.55, 4.52],
  [2.08, 4.75], [2.32, 4.75], [2.54, 4.75],
  [2.09, 4.97], [2.33, 4.97], [2.54, 4.97],
  [2.1, 5.14], [2.34, 5.14], [2.54, 5.14],
];
const seaRedModel: Pt[] = [
  [3.45, 0.85], [2.85, 1.62], [2.13, 2.63], [1.41, 3.63], [1.23, 4.27], [1.17, 5.2],
];
const seaBlueObs: Pt[] = [
  [2.31, 0.91], [2.41, 0.91], [2.51, 0.91], [2.61, 0.91], [2.71, 0.91],
  [2.44, 1.03], [2.54, 1.03], [2.64, 1.03], [2.74, 1.03], [2.84, 1.03],
  [2.58, 1.18], [2.67, 1.18], [2.77, 1.18], [2.87, 1.18],
  [2.71, 1.35], [2.8, 1.35], [2.89, 1.35], [2.97, 1.35],
  [2.79, 1.53], [2.87, 1.53], [2.95, 1.53], [3.0, 1.53],
  [2.84, 1.71], [2.92, 1.71], [3.0, 1.71],
  [2.85, 1.89], [2.93, 1.89], [3.0, 1.89],
  [2.85, 2.12], [2.93, 2.12], [2.99, 2.12],
  [2.85, 2.35], [2.92, 2.35], [2.98, 2.35],
  [2.84, 2.58], [2.91, 2.58], [2.97, 2.58],
  [2.84, 2.81], [2.9, 2.81], [2.97, 2.81],
  [2.84, 3.04], [2.9, 3.04], [2.96, 3.04],
  [2.83, 3.26], [2.9, 3.26], [2.95, 3.26],
  [2.83, 3.49], [2.89, 3.49], [2.95, 3.49],
  [2.82, 3.72], [2.89, 3.72], [2.95, 3.72],
  [2.82, 3.95], [2.88, 3.95], [2.94, 3.95],
  [2.82, 4.18], [2.88, 4.18], [2.94, 4.18],
  [2.82, 4.41], [2.88, 4.41], [2.93, 4.41],
  [2.81, 4.63], [2.87, 4.63], [2.93, 4.63],
  [2.81, 4.86], [2.87, 4.86], [2.93, 4.86],
  [2.81, 5.09], [2.87, 5.09], [2.93, 5.09],
  [2.36, 0.97], [2.46, 0.97], [2.56, 0.97], [2.66, 0.97], [2.76, 0.97],
  [2.51, 1.1], [2.61, 1.1], [2.7, 1.1], [2.8, 1.1], [2.88, 1.1],
  [2.64, 1.26], [2.74, 1.26], [2.83, 1.26], [2.92, 1.26],
  [2.75, 1.44], [2.84, 1.44], [2.92, 1.44], [2.99, 1.44],
  [2.82, 1.62], [2.9, 1.62], [2.97, 1.62],
  [2.85, 1.8], [2.93, 1.8], [3.0, 1.8],
  [2.85, 2.0], [2.93, 2.0], [2.99, 2.0],
  [2.85, 2.23], [2.92, 2.23], [2.98, 2.23],
  [2.84, 2.46], [2.91, 2.46], [2.97, 2.46],
  [2.84, 2.7], [2.9, 2.7], [2.97, 2.7],
  [2.84, 2.92], [2.9, 2.92], [2.96, 2.92],
  [2.83, 3.15], [2.9, 3.15], [2.95, 3.15],
  [2.83, 3.38], [2.89, 3.38], [2.95, 3.38],
  [2.82, 3.6], [2.89, 3.6], [2.95, 3.6],
  [2.82, 3.83], [2.88, 3.83], [2.94, 3.83],
  [2.82, 4.06], [2.88, 4.06], [2.94, 4.06],
  [2.82, 4.3], [2.88, 4.3], [2.93, 4.3],
  [2.81, 4.52], [2.87, 4.52], [2.93, 4.52],
  [2.81, 4.75], [2.87, 4.75], [2.93, 4.75],
  [2.81, 4.97], [2.87, 4.97], [2.93, 4.97],
  [2.81, 5.14], [2.87, 5.14], [2.93, 5.14],
];
const seaBlueModel: Pt[] = [
  [2.84, 0.85], [2.93, 1.44], [2.97, 2.44], [2.93, 3.81], [2.89, 5.2],
];

// ---------- layout of the panels ----------
interface PanelSpec {
  title: string;
  frame: { l: number; r: number; t: number; b: number };
  rowTop: number;
  titleBaseline: number;
  padR: number;
  topRange: [number, number];
  topTicks: number[];
  topLabels: number[];
  botRange: [number, number];
  botTicks: number[];
  botLabels: number[];
  depthRange: [number, number];
  depthTitle: boolean;
  units: boolean;
  green: Pt[];
  greenModel: Pt[];
  red: Pt[];
  redModel: Pt[];
  blue: Pt[];
  blueModel: Pt[];
}

const panels: PanelSpec[] = [
  {
    title: panelTitles[0], frame: { l: 63, r: 395, t: 78, b: 235 }, rowTop: 0, titleBaseline: 30, padR: 50,
    topRange: [0.392, 3.647], topTicks: topTicksNorth, topLabels: topLabelsNorth,
    botRange: [-2.4, 9.5], botTicks: botTicksNWA, botLabels: botLabelsNWA,
    depthRange: [0.872, 5.139], depthTitle: true, units: true,
    green: nwaGreenObs, greenModel: nwaGreenModel, red: nwaRedObs, redModel: nwaRedModel, blue: nwaBlueObs, blueModel: nwaBlueModel,
  },
  {
    title: panelTitles[1], frame: { l: 485, r: 815, t: 77, b: 234 }, rowTop: 0, titleBaseline: 33, padR: 10,
    topRange: [0.379, 3.615], topTicks: topTicksNorth, topLabels: topLabelsNorth,
    botRange: [-1.45, 10.42], botTicks: botTicksMLNA, botLabels: botLabelsMLNA,
    depthRange: [0.882, 5.18], depthTitle: false, units: false,
    green: mlnaGreenObs, greenModel: mlnaGreenModel, red: mlnaRedObs, redModel: mlnaRedModel, blue: mlnaBlueObs, blueModel: mlnaBlueModel,
  },
  {
    title: panelTitles[2], frame: { l: 880, r: 1210, t: 75, b: 232 }, rowTop: 0, titleBaseline: 26, padR: 6,
    topRange: [0.375, 3.617], topTicks: topTicksNorth, topLabels: topLabelsNorth,
    botRange: [-2.46, 9.455], botTicks: botTicksNS, botLabels: botLabelsNS,
    depthRange: [0.864, 5.142], depthTitle: false, units: false,
    green: nsGreenObs, greenModel: nsGreenModel, red: nsRedObs, redModel: nsRedModel, blue: nsBlueObs, blueModel: nsBlueModel,
  },
  {
    title: panelTitles[3], frame: { l: 63, r: 395, t: 376, b: 533 }, rowTop: 290, titleBaseline: 332, padR: 10,
    topRange: [-0.108, 3.147], topTicks: topTicksSouth, topLabels: topLabelsSouth,
    botRange: [-3.37, 8.49], botTicks: botTicksSouth, botLabels: botLabelsSouth,
    depthRange: [0.871, 5.173], depthTitle: true, units: false,
    green: swaGreenObs, greenModel: swaGreenModel, red: swaRedObs, redModel: swaRedModel, blue: swaBlueObs, blueModel: swaBlueModel,
  },
  {
    title: panelTitles[4], frame: { l: 485, r: 815, t: 376, b: 533 }, rowTop: 290, titleBaseline: 333, padR: 10,
    topRange: [-0.121, 3.115], topTicks: topTicksSouth, topLabels: topLabelsSouth,
    botRange: [-3.44, 8.43], botTicks: botTicksSouth, botLabels: botLabelsSouth,
    depthRange: [0.871, 5.173], depthTitle: false, units: false,
    green: seaGreenObs, greenModel: seaGreenModel, red: seaRedObs, redModel: seaRedModel, blue: seaBlueObs, blueModel: seaBlueModel,
  },
];

const Y_W = 62;
const BOT_H = 40;
const TICK_LEN = 12;

function Panel({ spec }: { spec: PanelSpec }) {
  const ref = useRef<HTMLCanvasElement>(null);
  const width = spec.frame.r - spec.frame.l + Y_W + spec.padR;
  const height = spec.frame.b - spec.rowTop + BOT_H;

  useEffect(() => {
    if (!ref.current) return;
    const topH = spec.frame.t - spec.rowTop;
    const toXY = (pts: Pt[]) => pts.map(([x, y]) => ({ x, y }));
    const obs = (label: string, data: Pt[], color: string, axis: string) => ({
      label, data: toXY(data), xAxisID: axis, yAxisID: "y", showLine: false,
      pointRadius: 5, pointHoverRadius: 5, pointBorderWidth: 1.1, pointStyle: "circle",
      pointBorderColor: color, pointBackgroundColor: "rgba(0,0,0,0)", borderColor: color, clip: 0,
    });
    const model = (label: string, data: Pt[], color: string, axis: string) => ({
      label, data: toXY(data), xAxisID: axis, yAxisID: "y", showLine: true,
      borderColor: color, borderWidth: 2, pointRadius: 0, pointHoverRadius: 0, fill: false, tension: 0, clip: 0,
    });
    const tickFont = { family: FONT, size: 17 };
    const xAxis = (position: string, range: [number, number], vals: number[], labels: number[], h: number) => ({
      type: "linear", position, min: range[0], max: range[1], bounds: "data",
      afterBuildTicks: (s: any) => { s.ticks = vals.map((v) => ({ value: v })); },
      afterFit: (s: any) => { s.height = h; s.paddingLeft = 0; s.paddingRight = 0; },
      ticks: {
        autoSkip: false, maxRotation: 0, minRotation: 0, padding: 3, color: INK, font: tickFont,
        callback: (v: any) => (labels.indexOf(Number(v)) >= 0 ? String(v) : ""),
      },
      grid: { display: true, drawOnChartArea: false, drawTicks: true, tickLength: TICK_LEN, color: "#222", lineWidth: 1 },
      border: { display: false },
    });

    const deco = {
      id: "deco",
      afterDraw(chart: any) {
        const { ctx, chartArea: ca } = chart;
        ctx.save();
        ctx.strokeStyle = "#222";
        ctx.lineWidth = 1.2;
        ctx.strokeRect(ca.left, ca.top, ca.right - ca.left, ca.bottom - ca.top);
        ctx.fillStyle = INK;
        ctx.textAlign = "center";
        ctx.textBaseline = "alphabetic";
        ctx.font = `25.5px ${FONT}`;
        (ctx as any).letterSpacing = "0.6px";
        ctx.fillText(spec.title, (ca.left + ca.right) / 2, spec.titleBaseline - spec.rowTop);
        (ctx as any).letterSpacing = "0px";
        if (spec.units) {
          ctx.font = `17px ${FONT}`;
          ctx.textAlign = "left";
          ctx.fillText("psu", ca.right + 10, ca.top - 21);
          ctx.fillText("‰", ca.right + 12, ca.top + 2);
          const x6 = chart.scales.x2.getPixelForValue(6);
          ctx.fillText("°C", x6 + 7, ca.bottom + 32);
        }
        ctx.restore();
      },
    };

    const chart = new Chart(ref.current, {
      type: "scatter",
      data: {
        datasets: [
          model("Temperature", spec.redModel, RED, "x2"),
          model("Salinity (-32 psu)", spec.blueModel, BLUE, "x"),
          model("δ13C", spec.greenModel, GREEN, "x"),
          obs("Temperature obs", spec.red, RED, "x2"),
          obs("Salinity obs", spec.blue, BLUE, "x"),
          obs("δ13C obs", spec.green, GREEN, "x"),
        ] as any,
      },
      options: {
        animation: false,
        responsive: false,
        devicePixelRatio: 1,
        events: [],
        layout: { padding: { left: 0, top: 0, bottom: 0, right: spec.padR } },
        plugins: { legend: { display: false }, tooltip: { enabled: false }, title: { display: false } },
        scales: {
          x: xAxis("top", spec.topRange, spec.topTicks, spec.topLabels, topH),
          x2: xAxis("bottom", spec.botRange, spec.botTicks, spec.botLabels, BOT_H),
          y: {
            type: "linear", position: "left", reverse: true, min: spec.depthRange[0], max: spec.depthRange[1], bounds: "data",
            afterBuildTicks: (s: any) => { s.ticks = depthTicks.map((v) => ({ value: v })); },
            afterFit: (s: any) => { s.width = Y_W; s.paddingTop = 0; s.paddingBottom = 0; },
            ticks: { autoSkip: false, padding: 6, color: INK, font: tickFont, callback: (v: any) => String(v) },
            grid: { display: true, drawOnChartArea: false, drawTicks: true, tickLength: TICK_LEN, color: "#222", lineWidth: 1 },
            border: { display: false },
            title: {
              display: spec.depthTitle, text: "Depth (km)", color: INK,
              font: { family: FONT, size: 18 }, padding: { top: 7, bottom: 0 },
            },
          },
        },
      } as any,
      plugins: [deco],
    });
    return () => chart.destroy();
  }, [spec]);

  return (
    <canvas
      ref={ref}
      width={width}
      height={height}
      style={{ position: "absolute", left: spec.frame.l - Y_W, top: spec.rowTop, width, height }}
    />
  );
}

const legendColors = [RED, BLUE, GREEN];
const legendY = [385, 420, 454];

function Legend() {
  return (
    <>
      {legendLabels.map((lab, i) => (
        <div
          key={lab}
          style={{
            position: "absolute", left: 861, top: legendY[i] - 16, height: 32,
            display: "flex", alignItems: "center", fontFamily: FONT, fontSize: 24.5, color: INK, whiteSpace: "nowrap",
          }}
        >
          <div style={{ width: 46, height: 3, background: legendColors[i] }} />
          <span style={{ marginLeft: 9, lineHeight: "32px" }}>
            {lab.startsWith("δ") ? (
              <>
                δ<span style={{ fontSize: "0.62em", verticalAlign: "0.55em" }}>{lab.slice(1, 3)}</span>
                {lab.slice(3)}
              </>
            ) : (
              lab
            )}
          </span>
        </div>
      ))}
    </>
  );
}

export default function App() {
  return (
    <div style={{ position: "absolute", left: 0, top: 0, width: 1219, height: 567, background: "#fff", overflow: "hidden" }}>
      {panels.map((p) => (
        <Panel key={p.title} spec={p} />
      ))}
      <Legend />
    </div>
  );
}
